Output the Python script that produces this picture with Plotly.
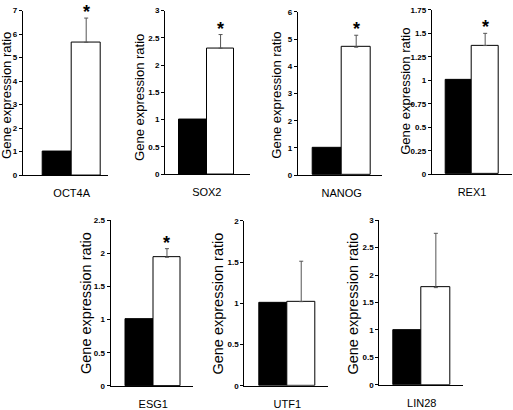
import plotly.graph_objects as go

# ---- data ----
genes = ["OCT4A", "SOX2", "NANOG", "REX1", "ESG1", "UTF1", "LIN28"]
control = [1.0, 1.0, 1.0, 1.0, 1.0, 1.0, 1.0]
treated = [5.65, 2.31, 4.70, 1.37, 1.94, 1.02, 1.77]
treated_err = [1.03, 0.25, 0.44, 0.13, 0.13, 0.49, 0.99]
significant = [True, True, True, True, True, False, False]
y_max = [7, 3, 6, 1.75, 2.5, 2, 3]
y_dtick = [1, 0.5, 1, 0.25, 0.5, 0.5, 0.5]
y_title = "Gene expression ratio"

# ---- layout (pixel geometry of each panel) ----
W, H = 513, 410
# axis_left, axis_right, y_top(px of max), y_bottom(px of 0), range_left, range_right, title_x, title_y, title_size
panels = [
    (22.7, 108.0, 6.7, 175.0, -0.845, 0.626, 7.0, 94.0, 13),
    (165.0, 250.0, 6.7, 174.0, -0.76, 0.785, 140.0, 96.0, 13),
    (297.7, 382.0, 8.0, 175.0, -0.759, 0.695, 276.7, 93.0, 13),
    (431.7, 512.0, 6.0, 174.0, -0.766, 0.76, 404.7, 89.0, 13),
    (110.5, 193.0, 221.0, 390.5, -0.78, 0.725, 86.7, 306.0, 14.5),
    (244.3, 328.0, 221.7, 390.3, -0.77, 0.73, 218.3, 306.0, 14.5),
    (379.3, 463.0, 221.0, 389.3, -0.75, 0.73, 353.3, 306.0, 14.5),
]

FONT = "Arial, Liberation Sans, sans-serif"
fig = go.Figure()
layout = dict(
    width=W, height=H, margin=dict(l=0, r=0, t=0, b=0),
    paper_bgcolor="white", plot_bgcolor="white",
    showlegend=False, barmode="group", bargap=0, bargroupgap=0,
    font=dict(family=FONT, color="black"),
)
annotations = []

for i, g in enumerate(genes):
    xl, xr, yt, yb, r0, r1, tx, ty, tsize = panels[i]
    sfx = "" if i == 0 else str(i + 1)
    xa, ya = "x" + sfx, "y" + sfx
    fig.add_trace(go.Bar(
        x=[g], y=[control[i]], xaxis=xa, yaxis=ya,
        marker=dict(color="black", line=dict(color="black", width=1)),
        offsetgroup="c",
    ))
    fig.add_trace(go.Bar(
        x=[g], y=[treated[i]], xaxis=xa, yaxis=ya,
        marker=dict(color="white", line=dict(color="black", width=1)),
        error_y=dict(type="data", array=[treated_err[i]], arrayminus=[0],
                     symmetric=False, color="#555555", thickness=1, width=2),
        offsetgroup="t",
    ))
    layout["xaxis" + sfx] = dict(
        domain=[xl / W, xr / W], anchor=ya, type="category",
        range=[r0, r1], showline=True, linecolor="black", linewidth=1,
        ticks="", showgrid=False, zeroline=False,
        tickfont=dict(family=FONT, size=11, color="black"),
        ticklabelstandoff=8,
    )
    layout["yaxis" + sfx] = dict(
        domain=[1 - yb / H, 1 - yt / H], anchor=xa,
        range=[0, y_max[i]], dtick=y_dtick[i], tick0=0,
        showline=True, linecolor="black", linewidth=1,
        ticks="outside", ticklen=3, tickcolor="black", tickwidth=1,
        showgrid=False, zeroline=False,
        tickfont=dict(family="Liberation Sans Narrow, Arial Narrow, " + FONT,
                      size=8, color="black", weight="bold"),
    )
    annotations.append(dict(
        text=y_title, textangle=-90, x=tx / W, y=1 - ty / H,
        xref="paper", yref="paper", xanchor="center", yanchor="middle",
        showarrow=False, font=dict(family=FONT, size=tsize, color="black"),
    ))
    if significant[i]:
        annotations.append(dict(
            text="<b>*</b>", x=0.25, y=treated[i] + treated_err[i],
            xref=xa, yref=ya, xanchor="center", yanchor="middle",
            yshift=6, showarrow=False,
            font=dict(family=FONT, size=18, color="black"),
        ))

layout["annotations"] = annotations
fig.update_layout(**layout)
fig.write_html(
    "out.html",
    config={"displayModeBar": False},
    post_script="document.body.style.margin='0';document.body.style.overflow='hidden';",
)
